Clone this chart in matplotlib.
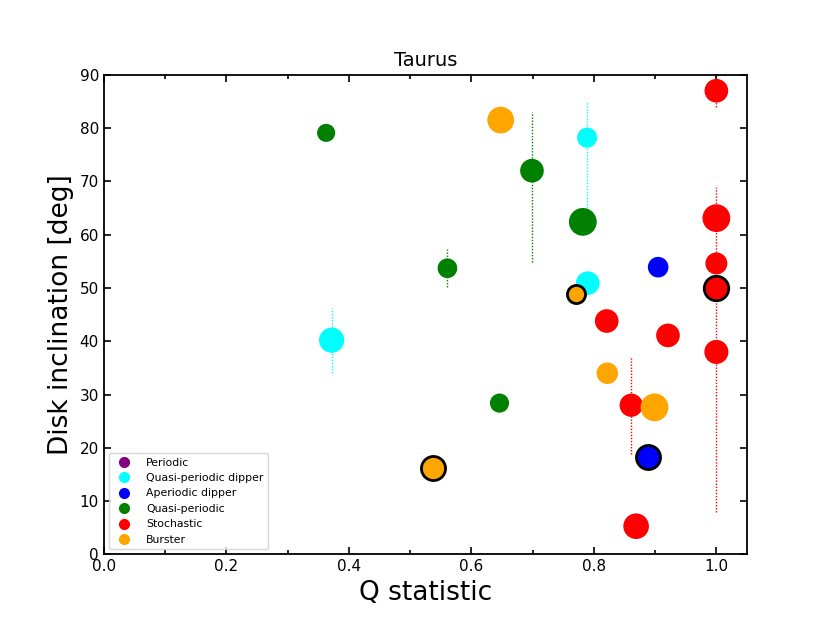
import numpy as np
import matplotlib as mpl
import matplotlib.pyplot as plt
from matplotlib.lines import Line2D

mpl.rcParams['font.family'] = 'DejaVu Sans'

# class colours
classes = ['Periodic', 'Quasi-periodic dipper', 'Aperiodic dipper', 'Quasi-periodic', 'Stochastic', 'Burster']
class_colors = ['purple', 'cyan', 'blue', 'green', 'red', 'orange']

# one entry per star: Q statistic, inclination, errors (lower, upper), class, marker size, outlined
q_stat = [0.363, 0.372, 0.561, 0.538, 0.648, 0.646, 0.699, 0.789, 0.782, 0.790, 0.771, 0.821,
          0.921, 1.000, 0.822, 0.861, 0.899, 0.889, 0.869, 0.905, 1.000, 1.000, 1.000, 1.000]
incl = [79.1, 40.2, 53.7, 16.2, 81.5, 28.4, 72.0, 78.2, 62.4, 50.9, 48.9, 43.8,
        41.1, 38.0, 34.0, 28.0, 27.6, 18.3, 5.3, 53.9, 87.0, 63.1, 54.6, 50.0]
err_lo = [0, 6.2, 3.5, 0, 0, 0, 17.1, 13.8, 0, 0, 0, 0,
          0, 0, 0, 9.2, 0, 0, 0, 0, 3.0, 0, 0, 42.0]
err_hi = [0, 6.0, 3.6, 0, 0, 0, 11.0, 6.7, 0, 0, 0, 0,
          0, 0, 0, 9.0, 0, 0, 0, 0, 3.0, 0, 0, 19.0]
star_class = ['Quasi-periodic', 'Quasi-periodic dipper', 'Quasi-periodic', 'Burster', 'Burster',
              'Quasi-periodic', 'Quasi-periodic', 'Quasi-periodic dipper', 'Quasi-periodic',
              'Quasi-periodic dipper', 'Burster', 'Stochastic', 'Stochastic', 'Stochastic', 'Burster',
              'Stochastic', 'Burster', 'Aperiodic dipper', 'Stochastic', 'Aperiodic dipper',
              'Stochastic', 'Stochastic', 'Stochastic', 'Stochastic']
sizes = [170, 330, 200, 300, 370, 190, 290, 210, 400, 290, 170, 290,
         290, 300, 240, 280, 400, 300, 340, 220, 290, 400, 250, 310]
outlined = [False, False, False, True, False, False, False, False, False, False, True, False,
            False, False, False, False, False, True, False, False, False, False, False, True]


def plot_q_vs_incl(region):

    fig, ax = plt.subplots(figsize=(8.3, 6.23), dpi=100)

    cmap = dict(zip(classes, class_colors))
    for i in range(len(q_stat)):
        c = cmap[star_class[i]]
        if err_lo[i] > 0 or err_hi[i] > 0:
            ax.errorbar(q_stat[i], incl[i], yerr=[[err_lo[i]], [err_hi[i]]], fmt='none',
                        ecolor=c, elinewidth=1, capsize=0, zorder=1)
        if outlined[i]:
            ax.scatter(q_stat[i], incl[i], s=sizes[i], color=c, edgecolors='black', linewidths=2, zorder=3)
        else:
            ax.scatter(q_stat[i], incl[i], s=sizes[i], color=c, edgecolors='none', zorder=2)

    # make the error bars dotted
    for coll in ax.collections:
        if isinstance(coll, mpl.collections.LineCollection):
            coll.set_linestyle((0, (1, 1.2)))

    handles = [Line2D([], [], marker='o', linestyle='none', color=c, markersize=7) for c in class_colors]
    ax.legend(handles, classes, loc='lower left', fontsize=7.8, handletextpad=1.0)

    ax.set_xlim(0, 1.05)
    ax.set_ylim(0, 90)
    ax.set_xticks(np.arange(0, 1.01, 0.2))
    ax.set_xticks(np.arange(0.1, 1.01, 0.2), minor=True)
    ax.set_yticks(np.arange(0, 91, 10))
    ax.tick_params(which='both', direction='in', top=True, right=True, width=1.2, labelsize=11)
    ax.tick_params(which='major', length=5)
    ax.tick_params(which='minor', length=3)
    for sp in ax.spines.values():
        sp.set_linewidth(1.3)

    ax.set_xlabel('Q statistic', fontsize=19)
    ax.set_ylabel('Disk inclination [deg]', fontsize=19)
    ax.set_title(region, fontsize=14)
    plt.savefig('out.png')


if __name__ == '__main__':
    plot_q_vs_incl('Taurus')
